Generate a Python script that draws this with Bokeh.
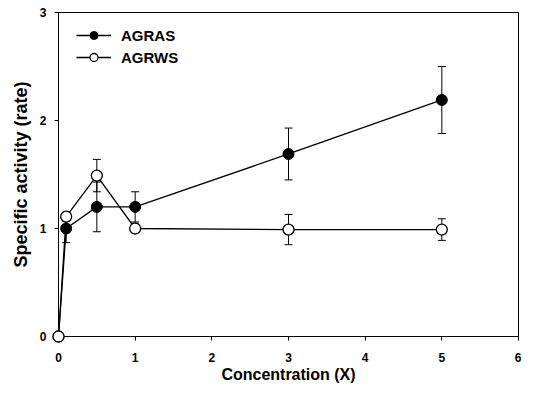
from bokeh.plotting import figure
from bokeh.models import ColumnDataSource, Whisker, Legend, LegendItem, FixedTicker, Range1d
from bokeh.embed import file_html
from bokeh.resources import INLINE

# Data
conc = [0, 0.1, 0.5, 1, 3, 5]
agras = [0, 1.00, 1.20, 1.20, 1.69, 2.19]
agras_err = [0, 0.13, 0.23, 0.14, 0.24, 0.31]
agrws = [0, 1.11, 1.49, 1.00, 0.99, 0.99]
agrws_err = [0, 0.04, 0.15, 0.04, 0.14, 0.10]
x_ticks = [0, 1, 2, 3, 4, 5, 6]
y_ticks = [0, 1, 2, 3]

FONT = "Liberation Sans"

p = figure(width=521, height=386, output_backend="svg", toolbar_location=None,
           x_range=Range1d(0, 6), y_range=Range1d(0, 3),
           min_border_left=58, min_border_right=3, min_border_top=12, min_border_bottom=50,
           border_fill_color="white")
p.grid.visible = False
p.outline_line_color = "black"
p.outline_line_width = 1
p.background_fill_color = "white"

for ax in (p.xaxis[0], p.yaxis[0]):
    ax.axis_line_color = "black"
    ax.axis_line_width = 1
    ax.major_tick_out = 4
    ax.major_tick_in = 0
    ax.minor_tick_out = 0
    ax.minor_tick_in = 0
    ax.major_label_text_font = FONT
    ax.major_label_text_font_style = "bold"
    ax.major_label_text_font_size = "12px"
    ax.major_label_text_color = "black"
    ax.axis_label_text_font = FONT
    ax.axis_label_text_font_style = "bold"
    ax.axis_label_text_color = "black"

p.xaxis.axis_label_text_font_size = "16px"
p.yaxis.axis_label_text_font_size = "18px"
p.xaxis.ticker = FixedTicker(ticks=x_ticks)
p.yaxis.ticker = FixedTicker(ticks=y_ticks)
p.xaxis.axis_label = "Concentration (X)"
p.yaxis.axis_label = "Specific activity (rate)"
p.xaxis.major_label_standoff = 12
p.yaxis.major_label_standoff = 8
p.xaxis.axis_label_standoff = 1
p.yaxis.axis_label_standoff = 6

src_a = ColumnDataSource(dict(x=conc, y=agras,
                              lo=[v - e for v, e in zip(agras, agras_err)],
                              hi=[v + e for v, e in zip(agras, agras_err)]))
src_w = ColumnDataSource(dict(x=conc, y=agrws,
                              lo=[v - e for v, e in zip(agrws, agrws_err)],
                              hi=[v + e for v, e in zip(agrws, agrws_err)]))

for src in (src_a, src_w):
    w = Whisker(source=src, base="x", lower="lo", upper="hi", dimension="height",
                line_color="black", line_width=1)
    w.upper_head.size = 8
    w.lower_head.size = 8
    w.upper_head.line_color = "black"
    w.lower_head.line_color = "black"
    w.upper_head.line_width = 1
    w.lower_head.line_width = 1
    p.add_layout(w)

la = p.line("x", "y", source=src_a, line_color="black", line_width=1.3)
sa = p.scatter("x", "y", source=src_a, size=11, fill_color="black", line_color="black",
               line_width=1, level="overlay")
lw = p.line("x", "y", source=src_w, line_color="black", line_width=1.3)
sw = p.scatter("x", "y", source=src_w, size=11, fill_color="white", line_color="black",
               line_width=1.3, level="overlay")

legend = Legend(items=[LegendItem(label="AGRAS", renderers=[la, sa]),
                       LegendItem(label="AGRWS", renderers=[lw, sw])],
                location=(18, 269), margin=0, padding=0, spacing=2,
                glyph_width=35, glyph_height=20, label_height=20, label_standoff=10,
                border_line_color=None, background_fill_alpha=0,
                label_text_font=FONT, label_text_font_style="bold",
                label_text_font_size="15px", label_text_color="black")
p.add_layout(legend)

open("out.html", "w").write(file_html(p, INLINE))
